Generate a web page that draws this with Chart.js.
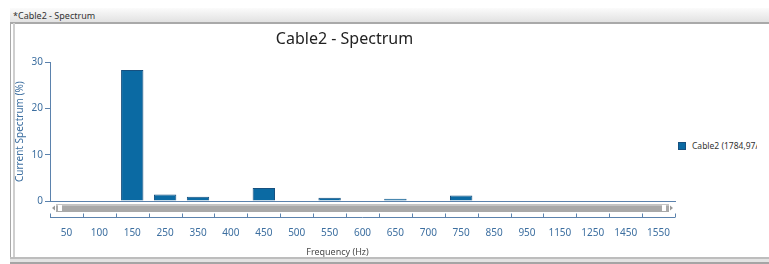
<!DOCTYPE html>
<html>
<head>
<meta charset="utf-8">
<script src="https://cdn.jsdelivr.net/npm/chart.js@4"></script>
<style>
  body { margin: 0; background: #fff; width: 769px; height: 264px; overflow: hidden; position: relative; font-family: "Noto Sans", sans-serif; }
  #barra { position: absolute; left: 10px; top: 8px; width: 800px; height: 14px; background: linear-gradient(#fbfbfb, #e2e2e2); border-bottom: 2px solid #a9a9a9; }
  #barra span { position: absolute; left: 3px; top: 1px; font-size: 9px; color: #333; }
  #marcoIzq { position: absolute; left: 10px; top: 23px; width: 2px; height: 236px; border-left: 1px solid #a9a9a9; border-right: 2px solid #cfcfcf; }
  #marcoAbajo { position: absolute; left: 10px; top: 257px; width: 800px; height: 3px; border-top: 2px solid #bdbdbd; border-bottom: 2px solid #a5a5a5; background: #e3e3e3; }
  #contenedor { position: absolute; left: 14px; top: 23px; width: 664px; height: 234px; }
  #leyenda { position: absolute; left: 678px; top: 140px; width: 79px; height: 14px; overflow: hidden; white-space: nowrap; font-size: 8.5px; color: #333; }
  #leyenda i { display: inline-block; width: 8px; height: 8px; background: #0b6aa3; border: 1px solid #17507f; box-sizing: border-box; margin-right: 6px; vertical-align: -1px; }
</style>
</head>
<body>
<div id="barra"><span>*Cable2 - Spectrum</span></div>
<div id="marcoIzq"></div>
<div id="marcoAbajo"></div>
<div id="contenedor"><canvas id="grafico" width="664" height="234"></canvas></div>
<div id="leyenda"><i></i>Cable2 (1784,97A)</div>
<script>
// datos
const frecuencias = ["50", "100", "150", "250", "350", "400", "450", "500", "550", "600", "650", "700", "750", "850", "950", "1150", "1250", "1450", "1550"];
const espectro = [0, 0, 28.3, 1.4, 0.9, 0, 2.8, 0, 0.7, 0, 0.5, 0, 1.2, 0, 0, 0, 0, 0, 0];
const ticksY = [0, 10, 20, 30];

const azulEje = "#5b82ad";
const azulTexto = "#3d6fa0";

// scrollbar + segunda línea de eje con marcas hacia arriba + título del eje x
const extrasEje = {
  id: "extrasEje",
  afterDraw(chart) {
    const { ctx, chartArea } = chart;
    const izq = chartArea.left, der = chartArea.right, base = chartArea.bottom;
    ctx.save();
    // scrollbar
    const sy = base + 3;
    ctx.fillStyle = "#a9a9a9";
    ctx.fillRect(izq + 6, sy, der - izq - 12, 8);
    ctx.fillStyle = "#c4c4c4";
    ctx.fillRect(izq + 6, sy, der - izq - 12, 2);
    ctx.fillStyle = "#fff";
    ctx.fillRect(izq + 8, sy + 1, 4, 6);
    ctx.fillRect(der - 13, sy + 1, 4, 6);
    ctx.fillStyle = "#999";
    ctx.beginPath();
    ctx.moveTo(izq + 2, sy + 4); ctx.lineTo(izq + 5, sy + 1.5); ctx.lineTo(izq + 5, sy + 6.5); ctx.fill();
    ctx.beginPath();
    ctx.moveTo(der - 2, sy + 4); ctx.lineTo(der - 5, sy + 1.5); ctx.lineTo(der - 5, sy + 6.5); ctx.fill();
    // línea del eje
    const ly = base + 16.5;
    ctx.strokeStyle = azulEje;
    ctx.lineWidth = 1;
    ctx.beginPath();
    ctx.moveTo(izq, ly); ctx.lineTo(der, ly);
    const ancho = (der - izq) / frecuencias.length;
    for (let k = 0; k <= frecuencias.length; k++) {
      const px = Math.round(izq + k * ancho) + 0.5;
      ctx.moveTo(px, ly); ctx.lineTo(px, ly - 4);
    }
    ctx.stroke();
    // título eje x
    ctx.fillStyle = "#4a4a4a";
    ctx.font = "9px 'Noto Sans'";
    ctx.textAlign = "center";
    ctx.textBaseline = "middle";
    ctx.fillText("Frequency (Hz)", izq + (der - izq) * 0.46, base + 51);
    ctx.restore();
  }
};

const grafico = new Chart(document.getElementById("grafico"), {
  type: "bar",
  data: {
    labels: frecuencias,
    datasets: [{
      label: "Cable2 (1784,97A)",
      data: espectro,
      backgroundColor: "#0b6aa3",
      borderColor: "#17507f",
      borderWidth: 1,
      borderSkipped: "bottom",
      categoryPercentage: 1,
      barPercentage: 0.68
    }]
  },
  options: {
    responsive: false,
    animation: false,
    devicePixelRatio: 1,
    layout: { padding: { left: 0, right: 3, top: 0, bottom: 0 } },
    plugins: {
      legend: { display: false },
      tooltip: { enabled: false },
      title: {
        display: true,
        text: "Cable2 - Spectrum",
        color: "#222",
        font: { family: "'Noto Sans'", size: 16, weight: "normal" },
        padding: { top: 7, bottom: 13 }
      }
    },
    scales: {
      x: {
        // marcas invisibles solo para bajar las etiquetas
        grid: { display: true, drawOnChartArea: false, drawTicks: true, tickLength: 24, color: "rgba(0,0,0,0)" },
        border: { display: true, color: azulEje },
        ticks: { color: azulTexto, font: { family: "'Noto Sans'", size: 10 }, padding: 2, maxRotation: 0, autoSkip: false },
        afterFit(s) { s.height = 56; }
      },
      y: {
        min: 0,
        max: 30,
        afterBuildTicks(s) { s.ticks = ticksY.map(v => ({ value: v })); },
        grid: { display: true, drawOnChartArea: false, drawTicks: true, tickLength: 5, color: azulEje },
        border: { display: true, color: azulEje },
        ticks: { color: azulTexto, font: { family: "'Noto Sans'", size: 10 }, padding: 2 },
        title: { display: true, text: "Current Spectrum (%)", color: azulTexto, font: { family: "'Noto Sans'", size: 10 }, padding: 0 },
        afterFit(s) { s.width = 36; }
      }
    }
  },
  plugins: [extrasEje]
});
</script>
</body>
</html>
